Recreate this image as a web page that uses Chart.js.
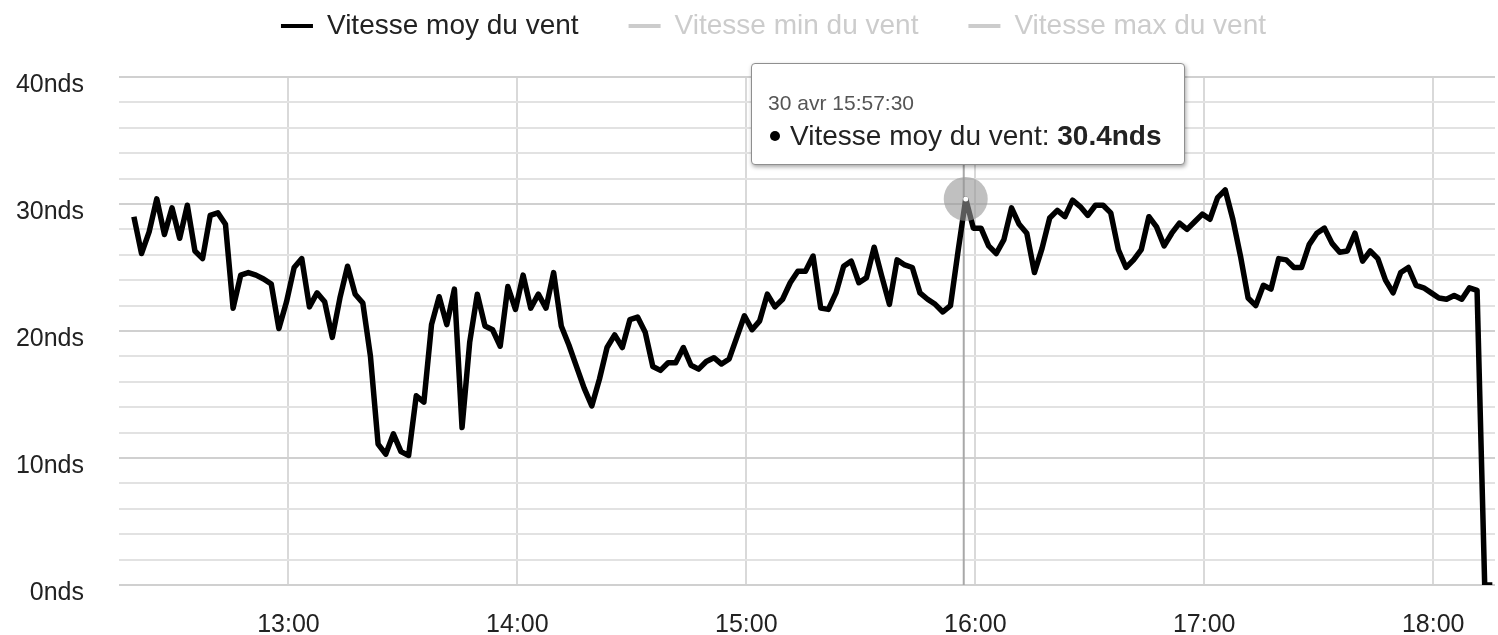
<!DOCTYPE html>
<html lang="fr">
<head>
<meta charset="utf-8">
<title>Vitesse du vent</title>
<script src="https://cdn.jsdelivr.net/npm/chart.js@4.4.1/dist/chart.umd.min.js"></script>
<style>
    html, body { margin: 0; padding: 0; background: #fff; }
    #wrap { position: relative; width: 1498px; height: 635px; }
    #tip {
        position: absolute;
        display: none;
        background: #fff;
        border: 1px solid #8f8f8f;
        border-radius: 4px;
        box-shadow: 1px 2px 4px rgba(0, 0, 0, 0.35);
        padding: 26px 22px 12px 16px;
        font-family: 'Liberation Sans', Arial, sans-serif;
        white-space: nowrap;
        pointer-events: none;
    }
    #tip .t { color: #555; font-size: 21px; line-height: 26px; }
    #tip .b { color: #222; font-size: 28px; line-height: 32px; margin-top: 4px; }
    #tip .dot {
        display: inline-block; width: 10px; height: 10px; border-radius: 50%;
        background: #000; margin: 0 10px 4px 2px; vertical-align: middle;
    }
</style>
</head>
<body>
<div id="wrap">
    <canvas id="windChart"></canvas>
    <div id="tip"></div>
</div>
<script>
// Relevés toutes les 2 minutes
const times = [
    '12:19:30', '12:21:30', '12:23:30', '12:25:30', '12:27:30', '12:29:30', '12:31:30', '12:33:30', '12:35:30', '12:37:30',
    '12:39:30', '12:41:30', '12:43:30', '12:45:30', '12:47:30', '12:49:30', '12:51:30', '12:53:30', '12:55:30', '12:57:30',
    '12:59:30', '13:01:30', '13:03:30', '13:05:30', '13:07:30', '13:09:30', '13:11:30', '13:13:30', '13:15:30', '13:17:30',
    '13:19:30', '13:21:30', '13:23:30', '13:25:30', '13:27:30', '13:29:30', '13:31:30', '13:33:30', '13:35:30', '13:37:30',
    '13:39:30', '13:41:30', '13:43:30', '13:45:30', '13:47:30', '13:49:30', '13:51:30', '13:53:30', '13:55:30', '13:57:30',
    '13:59:30', '14:01:30', '14:03:30', '14:05:30', '14:07:30', '14:09:30', '14:11:30', '14:13:30', '14:15:30', '14:17:30',
    '14:19:30', '14:21:30', '14:23:30', '14:25:30', '14:27:30', '14:29:30', '14:31:30', '14:33:30', '14:35:30', '14:37:30',
    '14:39:30', '14:41:30', '14:43:30', '14:45:30', '14:47:30', '14:49:30', '14:51:30', '14:53:30', '14:55:30', '14:57:30',
    '14:59:30', '15:01:30', '15:03:30', '15:05:30', '15:07:30', '15:09:30', '15:11:30', '15:13:30', '15:15:30', '15:17:30',
    '15:19:30', '15:21:30', '15:23:30', '15:25:30', '15:27:30', '15:29:30', '15:31:30', '15:33:30', '15:35:30', '15:37:30',
    '15:39:30', '15:41:30', '15:43:30', '15:45:30', '15:47:30', '15:49:30', '15:51:30', '15:53:30', '15:55:30', '15:57:30',
    '15:59:30', '16:01:30', '16:03:30', '16:05:30', '16:07:30', '16:09:30', '16:11:30', '16:13:30', '16:15:30', '16:17:30',
    '16:19:30', '16:21:30', '16:23:30', '16:25:30', '16:27:30', '16:29:30', '16:31:30', '16:33:30', '16:35:30', '16:37:30',
    '16:39:30', '16:41:30', '16:43:30', '16:45:30', '16:47:30', '16:49:30', '16:51:30', '16:53:30', '16:55:30', '16:57:30',
    '16:59:30', '17:01:30', '17:03:30', '17:05:30', '17:07:30', '17:09:30', '17:11:30', '17:13:30', '17:15:30', '17:17:30',
    '17:19:30', '17:21:30', '17:23:30', '17:25:30', '17:27:30', '17:29:30', '17:31:30', '17:33:30', '17:35:30', '17:37:30',
    '17:39:30', '17:41:30', '17:43:30', '17:45:30', '17:47:30', '17:49:30', '17:51:30', '17:53:30', '17:55:30', '17:57:30',
    '17:59:30', '18:01:30', '18:03:30', '18:05:30', '18:07:30', '18:09:30', '18:11:30', '18:13:30', '18:15:30'
];

// Vitesse moyenne (noeuds)
const vitesseMoy = [
    29.0, 26.1, 27.8, 30.4, 27.6, 29.7, 27.3, 29.9, 26.3, 25.7,
    29.1, 29.3, 28.4, 21.8, 24.4, 24.6, 24.4, 24.1, 23.7, 20.2,
    22.3, 25.0, 25.7, 21.9, 23.0, 22.3, 19.5, 22.6, 25.1, 22.9,
    22.2, 18.0, 11.1, 10.3, 11.9, 10.5, 10.2, 14.9, 14.4, 20.5,
    22.7, 20.5, 23.3, 12.4, 19.1, 22.9, 20.4, 20.1, 18.8, 23.5,
    21.7, 24.4, 21.8, 22.9, 21.8, 24.6, 20.4, 18.9, 17.2, 15.5,
    14.1, 16.2, 18.7, 19.7, 18.7, 20.9, 21.1, 19.9, 17.2, 16.9,
    17.5, 17.5, 18.7, 17.3, 17.0, 17.6, 17.9, 17.4, 17.8, 19.5,
    21.2, 20.1, 20.8, 22.9, 21.9, 22.5, 23.8, 24.7, 24.7, 25.9,
    21.8, 21.7, 23.0, 25.1, 25.5, 23.8, 24.2, 26.6, 24.3, 22.1,
    25.6, 25.2, 25.0, 23.0, 22.5, 22.1, 21.5, 22.0, 26.3, 30.4,
    28.1, 28.1, 26.7, 26.1, 27.2, 29.7, 28.4, 27.7, 24.6, 26.5,
    28.9, 29.5, 29.0, 30.3, 29.8, 29.1, 29.9, 29.9, 29.3, 26.4,
    25.0, 25.6, 26.4, 29.0, 28.2, 26.7, 27.7, 28.5, 28.0, 28.6,
    29.2, 28.8, 30.5, 31.1, 28.8, 25.9, 22.6, 22.0, 23.6, 23.3,
    25.7, 25.6, 25.0, 25.0, 26.8, 27.7, 28.1, 26.9, 26.2, 26.3,
    27.7, 25.5, 26.3, 25.7, 24.0, 23.0, 24.6, 25.0, 23.6, 23.4,
    23.0, 22.6, 22.5, 22.8, 22.5, 23.4, 23.2, 0, 0
];

// séries masquées (non affichées sur le graphe)
const vitesseMin = [];
const vitesseMax = [];

const hourTicks = ['13:00', '14:00', '15:00', '16:00', '17:00', '18:00'];
const axisStart = '12:15:36';
const axisEnd = '18:16:12';
const dayLabel = '30 avr';
const hoverTime = '15:57:30';

function toMinutes(t) {
    const p = t.split(':').map(Number);
    return p[0] * 60 + p[1] + (p[2] || 0) / 60;
}

function hourLabel(m) {
    const h = Math.floor(m / 60);
    const mn = Math.round(m % 60);
    return h + ':' + String(mn).padStart(2, '0');
}

Chart.defaults.font.family = "'Liberation Sans', Arial, sans-serif";
Chart.defaults.color = '#222';

// place la légende en haut, au-dessus de la zone du graphe
const legendPlacement = {
    id: 'legendPlacement',
    afterInit(chart) {
        const legend = chart.legend;
        const fit = legend.fit;
        legend.fit = function() {
            fit.call(this);
            this.height = 77;
        };
    },
    afterLayout(chart) {
        chart.legend.top = -38;
        chart.legend.left = 49;
    }
};

// ligne verticale et point blanc sur le relevé survolé
const hoverGuide = {
    id: 'hoverGuide',
    beforeDatasetsDraw(chart) {
        const act = chart.getActiveElements();
        if (!act.length) return;
        const el = act[0].element;
        const ctx = chart.ctx;
        ctx.save();
        ctx.strokeStyle = '#a8a8a8';
        ctx.lineWidth = 2;
        ctx.beginPath();
        ctx.moveTo(el.x - 2, chart.chartArea.top);
        ctx.lineTo(el.x - 2, chart.chartArea.bottom);
        ctx.stroke();
        ctx.restore();
    },
    afterDatasetsDraw(chart) {
        const act = chart.getActiveElements();
        if (!act.length) return;
        const el = act[0].element;
        const ctx = chart.ctx;
        ctx.save();
        ctx.fillStyle = '#fff';
        ctx.beginPath();
        ctx.arc(el.x, el.y, 2.5, 0, Math.PI * 2);
        ctx.fill();
        ctx.restore();
    }
};

function externalTooltip(context) {
    const tip = document.getElementById('tip');
    const tt = context.tooltip;
    if (tt.opacity === 0 || !tt.dataPoints || !tt.dataPoints.length) {
        tip.style.display = 'none';
        return;
    }
    const dp = tt.dataPoints[0];
    tip.innerHTML = '<div class="t">' + dayLabel + ' ' + times[dp.dataIndex] + '</div>' +
        '<div class="b"><span class="dot"></span>' + dp.dataset.label + ': <b>' +
        dp.parsed.y.toFixed(1) + 'nds</b></div>';
    tip.style.display = 'block';
    tip.style.left = (tt.caretX - tip.offsetWidth / 2) + 'px';
    tip.style.top = (tt.caretY - tip.offsetHeight - 34) + 'px';
}

const ctx = document.getElementById('windChart').getContext('2d');
const chart = new Chart(ctx, {
    type: 'line',
    data: {
        datasets: [
            {
                label: 'Vitesse moy du vent',
                data: times.map((t, i) => ({ x: toMinutes(t), y: vitesseMoy[i] })),
                borderColor: '#000',
                backgroundColor: '#000',
                borderWidth: 5.5,
                borderJoinStyle: 'round',
                tension: 0,
                pointRadius: 0,
                pointHoverRadius: 22,
                pointHoverBorderWidth: 0,
                pointHoverBackgroundColor: 'rgba(150, 150, 150, 0.6)',
                fill: false
            },
            {
                label: 'Vitesse min du vent',
                data: vitesseMin,
                borderColor: '#cccccc',
                pointRadius: 0
            },
            {
                label: 'Vitesse max du vent',
                data: vitesseMax,
                borderColor: '#cccccc',
                pointRadius: 0
            }
        ]
    },
    options: {
        responsive: true,
        maintainAspectRatio: false,
        animation: false,
        layout: { padding: 0 },
        scales: {
            x: {
                type: 'linear',
                min: toMinutes(axisStart),
                max: toMinutes(axisEnd),
                afterBuildTicks: function(scale) {
                    scale.ticks = hourTicks.map(h => ({ value: toMinutes(h) }));
                },
                afterFit: function(scale) { scale.height = 49; },
                ticks: {
                    autoSkip: false,
                    maxRotation: 0,
                    padding: 25,
                    font: { size: 25 },
                    callback: v => hourLabel(v)
                },
                grid: { color: '#d9d9d9', lineWidth: 2, drawTicks: false },
                border: { display: false }
            },
            y: {
                min: 0,
                max: 40,
                afterFit: function(scale) { scale.width = 119; },
                ticks: {
                    stepSize: 2,
                    autoSkip: false,
                    padding: 35,
                    labelOffset: 8,
                    font: { size: 25 },
                    callback: v => (v % 10 === 0 ? v + 'nds' : '')
                },
                grid: {
                    drawTicks: false,
                    lineWidth: 2,
                    color: c => (c.tick && c.tick.value % 10 === 0 ? '#d0d0d0' : '#e2e2e2')
                },
                border: { display: false }
            }
        },
        plugins: {
            legend: {
                position: 'top',
                labels: {
                    boxWidth: 32,
                    boxHeight: 4,
                    padding: 50,
                    font: { size: 28 },
                    generateLabels: function(chart) {
                        return chart.data.datasets.map((ds, i) => ({
                            text: ds.label,
                            fillStyle: ds.borderColor,
                            strokeStyle: ds.borderColor,
                            lineWidth: 0,
                            fontColor: i === 0 ? '#222' : ds.borderColor,
                            hidden: false,
                            datasetIndex: i
                        }));
                    }
                }
            },
            tooltip: {
                enabled: false,
                external: externalTooltip
            }
        }
    },
    plugins: [legendPlacement, hoverGuide]
});

// relevé survolé comme sur la capture
const hoverIndex = times.indexOf(hoverTime);
const active = [{ datasetIndex: 0, index: hoverIndex }];
chart.setActiveElements(active);
chart.tooltip.setActiveElements(active, { x: 0, y: 0 });
chart.update();
</script>
</body>
</html>
